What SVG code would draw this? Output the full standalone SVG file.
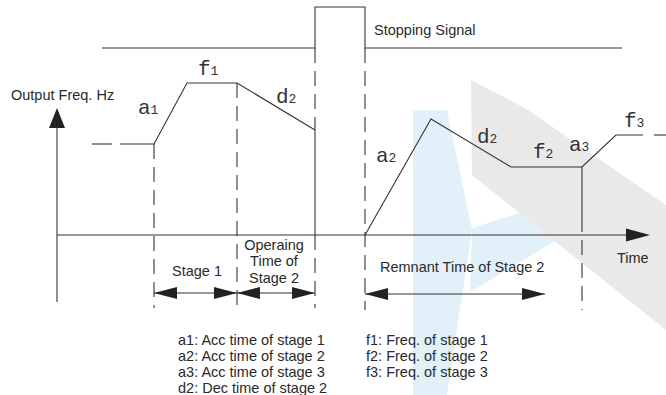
<svg xmlns="http://www.w3.org/2000/svg" width="666" height="395" viewBox="0 0 666 395">
<style>
.ln{stroke:#333;stroke-width:1.1;fill:none}
.ds{stroke:#333;stroke-width:1.1;fill:none;stroke-dasharray:15 8}
.t{font-family:"Liberation Sans",Arial,sans-serif;font-size:14.5px;fill:#2a2a2a}
.m{font-family:"Liberation Mono","Courier New",monospace;font-size:21px;fill:#333}
.m tspan{font-size:13px}
.ah{fill:#222}
</style>
<defs>
<marker id="dim" markerUnits="userSpaceOnUse" markerWidth="24" markerHeight="12" refX="23" refY="6" orient="auto-start-reverse" viewBox="0 0 24 12">
<path d="M0,0 L23,6 L0,12 Z" class="ah"/>
</marker>
</defs>
<rect width="666" height="395" fill="#ffffff"/>
<g id="watermark" opacity="0.45">
<polygon points="413,110 447,110 472,230 447,395 413,395" fill="#bfe0f3"/>
<polygon points="472,228 560,200 600,214 470,292" fill="#bfe0f3"/>
<polygon points="471,80 525,108 666,205 666,330 472,175" fill="#d0d0d0"/>
</g>
<g id="axes">
<line class="ln" x1="57" y1="126" x2="57" y2="302"/>
<polygon class="ah" points="57,108 49,128 65,128"/>
<line class="ln" x1="57" y1="235" x2="628" y2="235"/>
<polygon class="ah" points="650,235 626,228.5 626,241.5"/>
</g>
<g id="signal">
<polyline class="ln" points="102,48 315,48 315,7 365,7 365,48 622,48"/>
</g>
<g id="guides">
<line class="ds" x1="154" y1="144" x2="154" y2="308"/>
<line class="ds" x1="237" y1="83" x2="237" y2="308"/>
<line class="ds" x1="315" y1="48" x2="315" y2="130"/>
<line class="ln" x1="315" y1="130" x2="315" y2="235"/>
<line class="ds" x1="315" y1="235" x2="315" y2="308"/>
<line class="ds" x1="365" y1="48" x2="365" y2="310"/>
<line class="ln" x1="582" y1="167" x2="582" y2="232"/>
<line class="ds" x1="582" y1="240" x2="582" y2="310"/>
</g>
<g id="curve">
<line class="ln" x1="92" y1="144" x2="112" y2="144"/>
<polyline class="ln" points="120,144 154,144 187,83 237,83 315,130"/>
<polyline class="ln" points="365,235 431,119 511,167 582,167 616,135 643,135"/>
<line class="ln" x1="654" y1="135" x2="666" y2="135"/>
</g>
<g id="dimensions">
<line class="ln" x1="154" y1="293" x2="237" y2="293" marker-start="url(#dim)" marker-end="url(#dim)"/>
<line class="ln" x1="237" y1="293" x2="315" y2="293" marker-start="url(#dim)" marker-end="url(#dim)"/>
<line class="ln" x1="365" y1="294" x2="545" y2="294" marker-start="url(#dim)" marker-end="url(#dim)"/>
</g>
<g id="curve-labels">
<text class="m" x="138" y="114">a<tspan>1</tspan></text>
<text class="m" x="198" y="75">f<tspan>1</tspan></text>
<text class="m" x="276" y="103">d<tspan>2</tspan></text>
<text class="m" x="376" y="162">a<tspan>2</tspan></text>
<text class="m" x="477" y="143">d<tspan>2</tspan></text>
<text class="m" x="533" y="158">f<tspan>2</tspan></text>
<text class="m" x="569" y="151">a<tspan>3</tspan></text>
<text class="m" x="624" y="127">f<tspan>3</tspan></text>
</g>
<g id="texts">
<text class="t" x="11" y="100">Output Freq. Hz</text>
<text class="t" x="374" y="35">Stopping Signal</text>
<text class="t" x="617" y="263">Time</text>
<text class="t" x="197" y="276" text-anchor="middle">Stage 1</text>
<text class="t" x="274" y="250" text-anchor="middle">Operaing</text>
<text class="t" x="274" y="266" text-anchor="middle">Time of</text>
<text class="t" x="274" y="283" text-anchor="middle">Stage 2</text>
<text class="t" x="380" y="272">Remnant Time of Stage 2</text>
</g>
<g id="legend">
<text class="t" x="178" y="345">a1: Acc time of stage 1</text>
<text class="t" x="178" y="361">a2: Acc time of stage 2</text>
<text class="t" x="178" y="377">a3: Acc time of stage 3</text>
<text class="t" x="178" y="393">d2: Dec time of stage 2</text>
<text class="t" x="366" y="345">f1: Freq. of stage 1</text>
<text class="t" x="366" y="361">f2: Freq. of stage 2</text>
<text class="t" x="366" y="377">f3: Freq. of stage 3</text>
</g>
</svg>
